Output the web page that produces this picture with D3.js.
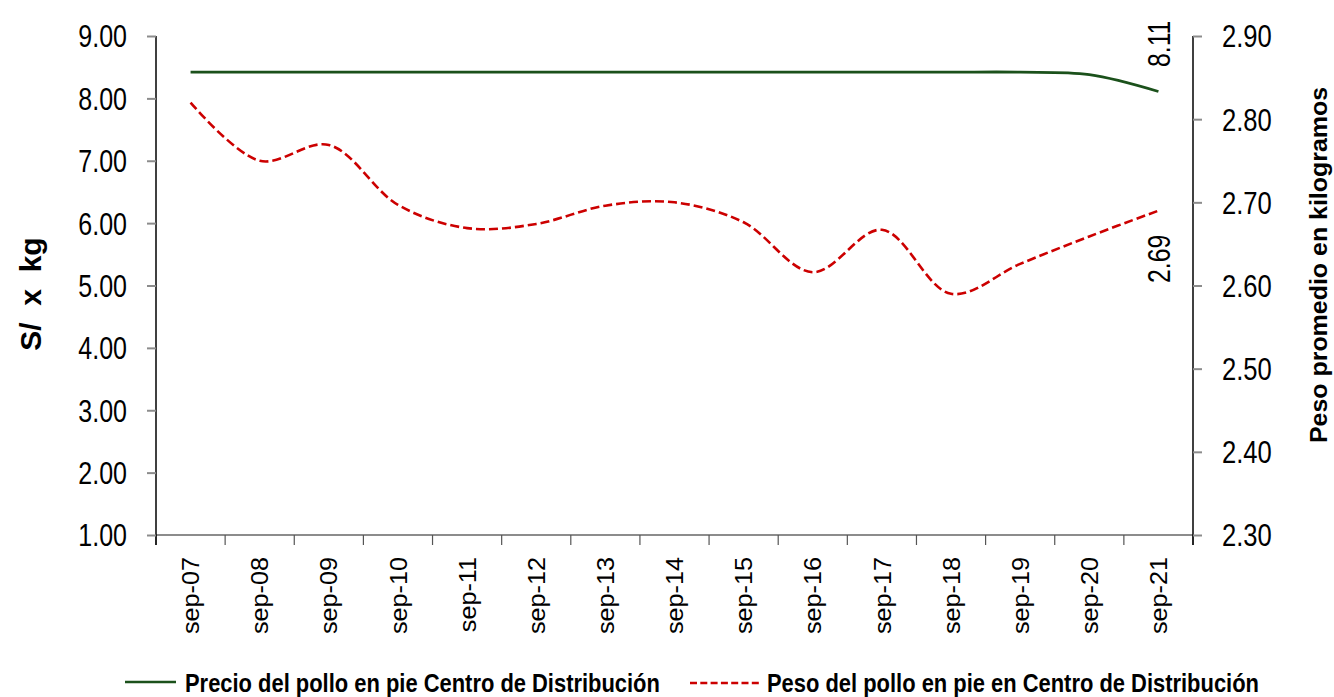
<!DOCTYPE html>
<html>
<head>
<meta charset="utf-8">
<script src="https://cdn.jsdelivr.net/npm/d3@7"></script>
<style>
  html, body { margin: 0; padding: 0; background: #fff; }
  svg { display: block; font-family: "Liberation Sans", Arial, sans-serif; }
</style>
</head>
<body>
<svg id="chart" width="1334" height="697"></svg>
<script>
// Data
var categories = ['sep-07', 'sep-08', 'sep-09', 'sep-10', 'sep-11', 'sep-12', 'sep-13',
  'sep-14', 'sep-15', 'sep-16', 'sep-17', 'sep-18', 'sep-19', 'sep-20', 'sep-21'];
var precio = [8.42, 8.42, 8.42, 8.42, 8.42, 8.42, 8.42, 8.42, 8.42, 8.42, 8.42, 8.42, 8.42, 8.38, 8.11];
var peso = [2.820, 2.750, 2.769, 2.697, 2.669, 2.674, 2.696, 2.700, 2.676, 2.616, 2.667, 2.590, 2.626, 2.659, 2.69];
var leftTicks = [1, 2, 3, 4, 5, 6, 7, 8, 9];
var rightTicks = [2.3, 2.4, 2.5, 2.6, 2.7, 2.8, 2.9];
var seriesNames = ['Precio del pollo en pie Centro de Distribución', 'Peso del pollo en pie en Centro de Distribución'];
var lastLabels = ['8.11', '2.69'];

var GREEN = '#1b511b';
var RED = '#cc0000';
var AXIS_GRAY = '#8c8c8c';

var plot = {left: 156, right: 1193, top: 36, bottom: 535};
var svg = d3.select('#chart');

svg.append('rect')
  .attr('width', 1334).attr('height', 697)
  .attr('fill', '#fff');

var x = d3.scaleBand().domain(categories).range([plot.left, plot.right]);
var yLeft = d3.scaleLinear().domain([1, 9]).range([plot.bottom, plot.top]);
var yRight = d3.scaleLinear().domain([2.3, 2.9]).range([plot.bottom, plot.top]);
var fmt = d3.format('.2f');

function cx(d, i) {
  return x(categories[i]) + x.bandwidth() / 2;
}

function translate(tx, ty) {
  return 'translate(' + (tx || 0) + ', ' + (ty || 0) + ')';
}

// Category axis: gray baseline with boundary ticks
var xAxis = svg.append('g').attr('class', 'x-axis');
xAxis.append('line')
  .attr('x1', plot.left).attr('x2', plot.right)
  .attr('y1', plot.bottom).attr('y2', plot.bottom)
  .attr('stroke', AXIS_GRAY).attr('stroke-width', 2);

var boundaries = categories.map(function(c) { return x(c); }).concat([plot.right]);
xAxis.selectAll('line.tick')
  .data(boundaries)
  .enter().append('line')
    .attr('class', 'tick')
    .attr('x1', function(d) { return d; }).attr('x2', function(d) { return d; })
    .attr('y1', plot.bottom).attr('y2', plot.bottom + 10)
    .attr('stroke', '#555').attr('stroke-width', 1.2);

// the chart's text is stretched along its direction, so labels get a scale()
xAxis.selectAll('text')
  .data(categories)
  .enter().append('text')
    .attr('transform', function(d, i) {
      return translate(cx(d, i), 557) + ' rotate(-90) scale(1.05, 1)';
    })
    .attr('text-anchor', 'end')
    .attr('dy', '0.36em')
    .attr('font-size', 24)
    .attr('fill', '#000')
    .text(function(d) { return d; });

// Value axes
function styleAxis(g, side) {
  g.select('.domain').attr('stroke', '#000').attr('stroke-width', 1.5);
  g.selectAll('.tick line').attr('stroke', AXIS_GRAY).attr('stroke-width', 2);
  g.selectAll('.tick text')
    .attr('x', null)
    .attr('dy', '0.36em')
    .attr('font-size', 30.5)
    .attr('fill', '#000')
    .attr('text-anchor', side === 'left' ? 'end' : 'start')
    .attr('transform', side === 'left' ? translate(-29, 0) + ' scale(0.82, 1)' : translate(29, 0) + ' scale(0.84, 1)');
}

svg.append('g')
  .attr('transform', translate(plot.left, 0))
  .call(d3.axisLeft(yLeft).tickValues(leftTicks).tickFormat(fmt).tickSize(9).tickSizeOuter(0))
  .call(styleAxis, 'left');

svg.append('g')
  .attr('transform', translate(plot.right, 0))
  .call(d3.axisRight(yRight).tickValues(rightTicks).tickFormat(fmt).tickSize(9).tickSizeOuter(0))
  .call(styleAxis, 'right');

svg.selectAll('g .domain').attr('d', function() {
  return 'M0,' + plot.top + 'V' + (plot.bottom + 10);
});

// Axis titles
svg.append('text')
  .attr('transform', translate(41, 294) + ' rotate(-90)')
  .attr('text-anchor', 'middle')
  .attr('font-size', 30).attr('font-weight', 'bold')
  .attr('xml:space', 'preserve')
  .style('white-space', 'pre')
  .text('S/  x  kg');

svg.append('text')
  .attr('transform', translate(1327, 265) + ' rotate(-90) scale(1.04, 1)')
  .attr('text-anchor', 'middle')
  .attr('font-size', 24).attr('font-weight', 'bold')
  .text('Peso promedio en kilogramos');

// Series
var curve = d3.curveCatmullRom.alpha(0.5);

var precioLine = d3.line()
  .x(cx)
  .y(function(d) { return yLeft(d); })
  .curve(curve);

var pesoLine = d3.line()
  .x(cx)
  .y(function(d) { return yRight(d); })
  .curve(curve);

svg.append('path')
  .datum(peso)
  .attr('d', pesoLine)
  .attr('fill', 'none')
  .attr('stroke', RED).attr('stroke-width', 2.6)
  .attr('stroke-dasharray', '9,4');

svg.append('path')
  .datum(precio)
  .attr('d', precioLine)
  .attr('fill', 'none')
  .attr('stroke', GREEN).attr('stroke-width', 2.8);

// Labels for the last point of each series
var lastX = cx(null, categories.length - 1);
var labelBottoms = [67, 283];
svg.selectAll('text.last-label')
  .data(lastLabels)
  .enter().append('text')
    .attr('class', 'last-label')
    .attr('transform', function(d, i) {
      return translate(lastX, labelBottoms[i]) + ' rotate(-90) scale(0.8, 1)';
    })
    .attr('text-anchor', 'start')
    .attr('dy', '0.36em')
    .attr('font-size', 31)
    .attr('fill', '#000')
    .text(function(d) { return d; });

// Legend
var legend = svg.append('g').attr('class', 'legend');
legend.append('line')
  .attr('x1', 125).attr('x2', 176).attr('y1', 682).attr('y2', 682)
  .attr('stroke', GREEN).attr('stroke-width', 2.6);
legend.append('line')
  .attr('x1', 690).attr('x2', 761).attr('y1', 683).attr('y2', 683)
  .attr('stroke', RED).attr('stroke-width', 2.6)
  .attr('stroke-dasharray', '7,3.3');

var legendX = [185, 767];
legend.selectAll('text')
  .data(seriesNames)
  .enter().append('text')
    .attr('transform', function(d, i) { return translate(legendX[i], 692) + ' scale(0.86, 1)'; })
    .attr('font-size', 25.5).attr('font-weight', 'bold')
    .attr('fill', '#000')
    .text(function(d) { return d; });
</script>
</body>
</html>
